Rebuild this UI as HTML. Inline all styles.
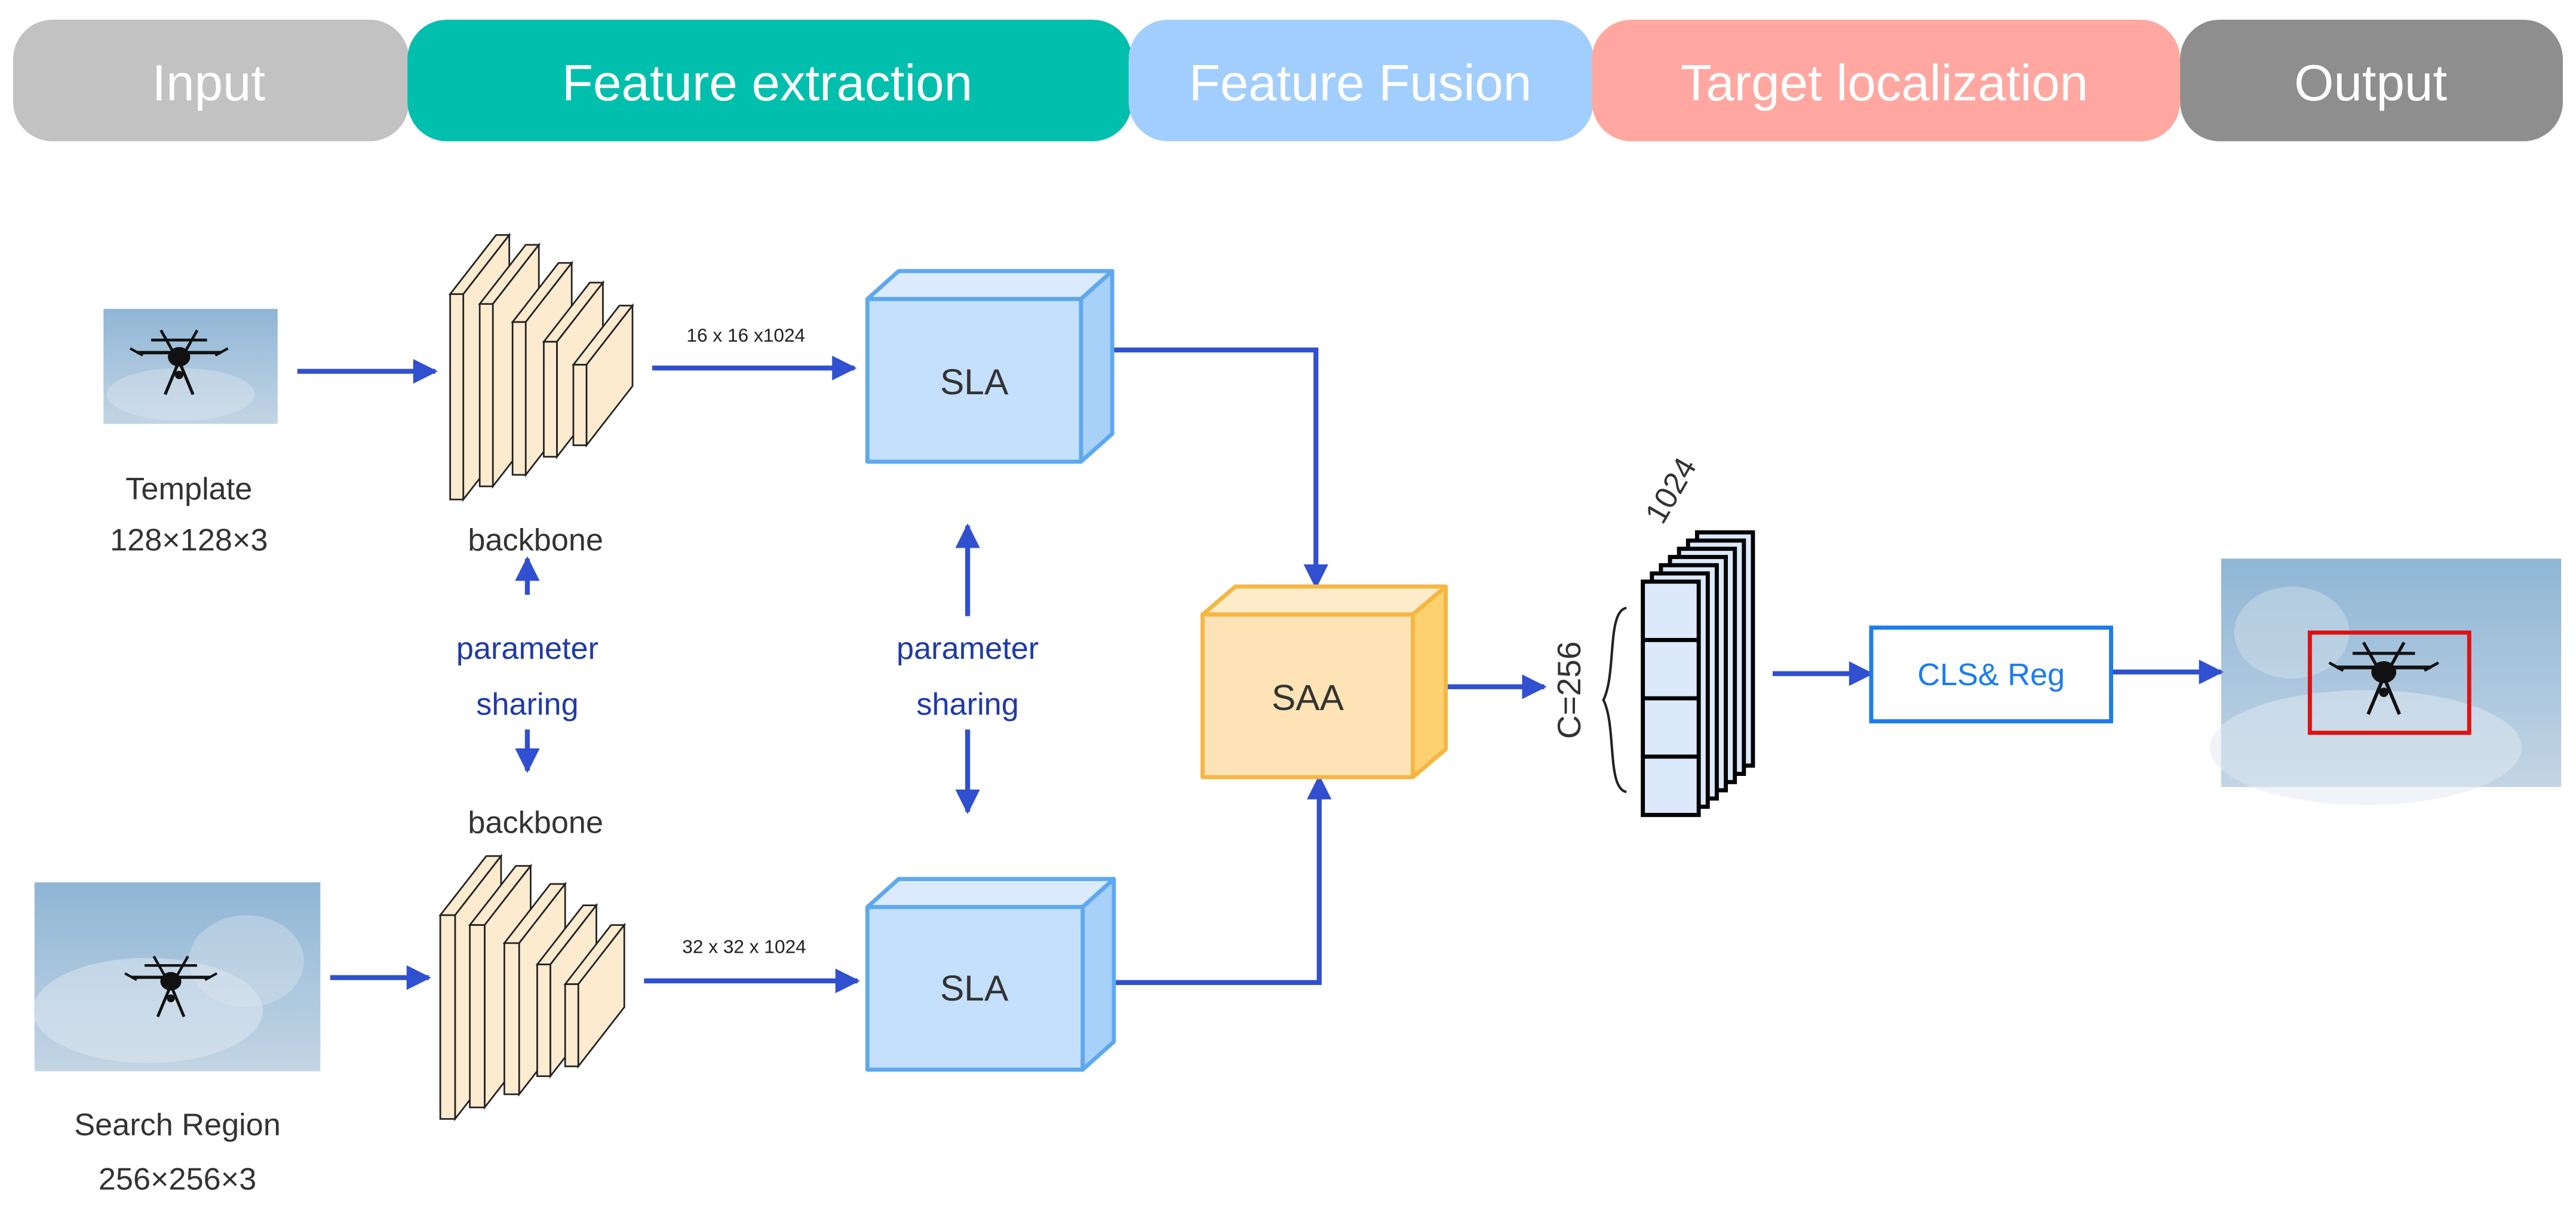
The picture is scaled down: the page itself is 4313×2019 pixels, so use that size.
<!DOCTYPE html>
<html><head><meta charset="utf-8"><style>html,body{margin:0;padding:0;background:#fff}svg{display:block}</style></head>
<body>
<svg width="4313" height="2019" viewBox="0 0 1568 734" preserveAspectRatio="none" xmlns="http://www.w3.org/2000/svg" font-family="'Liberation Sans', sans-serif">
<defs>
<marker id="ah" viewBox="0 0 10 10" refX="9" refY="5" markerWidth="5.5" markerHeight="5" orient="auto"><path d="M0,0 L10,5 L0,10 z" fill="#3050d0"/></marker>
<linearGradient id="sky" x1="0" y1="0" x2="0" y2="1"><stop offset="0" stop-color="#8fb6d6"/><stop offset="1" stop-color="#c3d5e4"/></linearGradient>
<g id="drone">
<line x1="-30" y1="-4" x2="30" y2="-4" stroke="#111" stroke-width="2.4"/>
<line x1="-20" y1="-13" x2="20" y2="-13" stroke="#111" stroke-width="2"/>
<line x1="-13" y1="-20" x2="-4" y2="-4" stroke="#111" stroke-width="2"/>
<line x1="13" y1="-20" x2="4" y2="-4" stroke="#111" stroke-width="2"/>
<ellipse cx="0" cy="-1" rx="8" ry="7" fill="#111"/>
<line x1="0" y1="2" x2="-10" y2="26" stroke="#111" stroke-width="2.2"/>
<line x1="0" y1="2" x2="10" y2="26" stroke="#111" stroke-width="2.2"/>
<circle cx="0" cy="12" r="3" fill="#111"/>
<line x1="-35" y1="-7" x2="-26" y2="-2" stroke="#111" stroke-width="1.8"/>
<line x1="35" y1="-7" x2="26" y2="-2" stroke="#111" stroke-width="1.8"/>
</g>
</defs>

<rect x="8" y="12" width="241" height="74" rx="24" fill="#c2c2c2"/>
<rect x="248" y="12" width="441" height="74" rx="24" fill="#00bfad"/>
<rect x="687" y="12" width="283" height="74" rx="24" fill="#a2cefd"/>
<rect x="969" y="12" width="358" height="74" rx="24" fill="#ffa7a0"/>
<rect x="1327" y="12" width="233" height="74" rx="24" fill="#8e8e8e"/>
<g fill="#fff" font-size="31" text-anchor="middle">
<text x="127" y="61">Input</text>
<text x="467" y="61">Feature extraction</text>
<text x="828" y="61">Feature Fusion</text>
<text x="1147" y="61">Target localization</text>
<text x="1443" y="61">Output</text>
</g>

<rect x="63" y="188" width="106" height="70" fill="url(#sky)"/>
<ellipse cx="110" cy="240" rx="45" ry="16" fill="#dbe5ee" opacity="0.45"/>
<use href="#drone" transform="translate(109,218) scale(0.85)"/>
<rect x="21" y="537" width="174" height="115" fill="url(#sky)"/>
<ellipse cx="90" cy="615" rx="70" ry="32" fill="#e2eaf1" opacity="0.5"/>
<ellipse cx="150" cy="585" rx="35" ry="28" fill="#dbe5ee" opacity="0.4"/>
<use href="#drone" transform="translate(104,598) scale(0.8)"/>
<rect x="1352" y="340" width="207" height="139" fill="url(#sky)"/>
<ellipse cx="1440" cy="455" rx="95" ry="35" fill="#e2eaf1" opacity="0.5"/>
<ellipse cx="1395" cy="385" rx="35" ry="28" fill="#dbe5ee" opacity="0.4"/>
<use href="#drone" transform="translate(1451,410) scale(0.95)"/>
<rect x="1406" y="385" width="97" height="61" fill="none" stroke="#e01010" stroke-width="2.5"/>

<g fill="#333" font-size="19" text-anchor="middle">
<text x="115" y="304">Template</text>
<text x="115" y="335">128×128×3</text>
<text x="108" y="691">Search Region</text>
<text x="108" y="724">256×256×3</text>
<text x="326" y="335">backbone</text>
<text x="326" y="507">backbone</text>
</g>

<g fill="#fdebd0" stroke="#222" stroke-width="1">
<polygon points="274,179 302,143 310,143 282,179"/><polygon points="282,179 310,143 310,268 282,304"/><rect x="274" y="179" width="8" height="125"/>
<polygon points="292,185 320,149 328,149 300,185"/><polygon points="300,185 328,149 328,260 300,296"/><rect x="292" y="185" width="8" height="111"/>
<polygon points="312,196 340,160 348,160 320,196"/><polygon points="320,196 348,160 348,253 320,289"/><rect x="312" y="196" width="8" height="93"/>
<polygon points="331,208 359,172 367,172 339,208"/><polygon points="339,208 367,172 367,242 339,278"/><rect x="331" y="208" width="8" height="70"/>
<polygon points="349,222 377,186 385,186 357,222"/><polygon points="357,222 385,186 385,235 357,271"/><rect x="349" y="222" width="8" height="49"/>
<polygon points="268,557 296,521 305,521 277,557"/><polygon points="277,557 305,521 305,645 277,681"/><rect x="268" y="557" width="9" height="124"/>
<polygon points="286,563 314,527 323,527 295,563"/><polygon points="295,563 323,527 323,638 295,674"/><rect x="286" y="563" width="9" height="111"/>
<polygon points="307,574 335,538 344,538 316,574"/><polygon points="316,574 344,538 344,630 316,666"/><rect x="307" y="574" width="9" height="92"/>
<polygon points="327,587 355,551 363,551 335,587"/><polygon points="335,587 363,551 363,619 335,655"/><rect x="327" y="587" width="8" height="68"/>
<polygon points="344,599 372,563 380,563 352,599"/><polygon points="352,599 380,563 380,613 352,649"/><rect x="344" y="599" width="8" height="50"/>
</g>

<g stroke="#3050d0" stroke-width="3" fill="none" marker-end="url(#ah)">
<line x1="181" y1="226" x2="265" y2="226"/>
<line x1="397" y1="224" x2="520" y2="224"/>
<line x1="201" y1="595" x2="261" y2="595"/>
<line x1="392" y1="597" x2="522" y2="597"/>
<polyline points="677,213 801,213 801,357"/>
<polyline points="678,598 803,598 803,473"/>
<line x1="881" y1="418" x2="940" y2="418"/>
<line x1="1079" y1="410" x2="1139" y2="410"/>
<line x1="1286" y1="409" x2="1352" y2="409"/>
<line x1="321" y1="362" x2="321" y2="340"/>
<line x1="321" y1="444" x2="321" y2="469"/>
<line x1="589" y1="375" x2="589" y2="320"/>
<line x1="589" y1="444" x2="589" y2="494"/>
</g>
<g fill="#1e3aa8" font-size="19" text-anchor="middle">
<text x="321" y="401">parameter</text>
<text x="321" y="435">sharing</text>
<text x="589" y="401">parameter</text>
<text x="589" y="435">sharing</text>
</g>
<g fill="#222" font-size="11.5" text-anchor="middle">
<text x="454" y="208">16 x 16 x1024</text>
<text x="453" y="580">32 x 32 x 1024</text>
</g>

<g stroke="#5ea9ee" stroke-width="2.5" stroke-linejoin="round">
<polygon points="528,182 547,165 677,165 658,182" fill="#dbeafe"/>
<polygon points="658,182 677,165 677,264 658,281" fill="#a8d1fa"/>
<rect x="528" y="182" width="130" height="99" fill="#c5e0fd"/>
<polygon points="528,552 547,535 678,535 659,552" fill="#dbeafe"/>
<polygon points="659,552 678,535 678,634 659,651" fill="#a8d1fa"/>
<rect x="528" y="552" width="131" height="99" fill="#c5e0fd"/>
</g>
<g fill="#333" font-size="22" text-anchor="middle">
<text x="593" y="240">SLA</text>
<text x="593" y="609">SLA</text>
</g>

<g stroke="#f5b642" stroke-width="2.5" stroke-linejoin="round">
<polygon points="732,374 752,357 880,357 860,374" fill="#fdebc9"/>
<polygon points="860,374 880,357 880,456 860,473" fill="#fdd170"/>
<rect x="732" y="374" width="128" height="99" fill="#fde3b5"/>
</g>
<text x="796" y="432" fill="#333" font-size="22" text-anchor="middle">SAA</text>

<g fill="#dbe9fb" stroke="#000" stroke-width="2.5">
<rect x="1033" y="324" width="34" height="142"/>
<rect x="1027.5" y="329" width="34" height="142"/>
<rect x="1022" y="334" width="34" height="142"/>
<rect x="1016.5" y="339" width="34" height="142"/>
<rect x="1011" y="344" width="34" height="142"/>
<rect x="1005.5" y="349" width="34" height="142"/>
<rect x="1000" y="354" width="34" height="142"/>
<line x1="1000" y1="389.5" x2="1034" y2="389.5"/>
<line x1="1000" y1="425" x2="1034" y2="425"/>
<line x1="1000" y1="460.5" x2="1034" y2="460.5"/>
</g>
<path d="M990,370 C978,372 984,410 976,426 C984,442 978,480 990,482" fill="none" stroke="#222" stroke-width="1.5"/>
<text x="0" y="0" transform="translate(962,420) rotate(-90)" fill="#333" font-size="20" text-anchor="middle">C=256</text>
<text x="0" y="0" transform="translate(1012,320) rotate(-60)" fill="#333" font-size="19" text-anchor="start">1024</text>

<rect x="1139" y="382" width="146" height="57" fill="#fff" stroke="#1a7cf0" stroke-width="2.5"/>
<text x="1212" y="417" fill="#1a7cf0" font-size="19" text-anchor="middle">CLS&amp; Reg</text>
</svg>
</body></html>
